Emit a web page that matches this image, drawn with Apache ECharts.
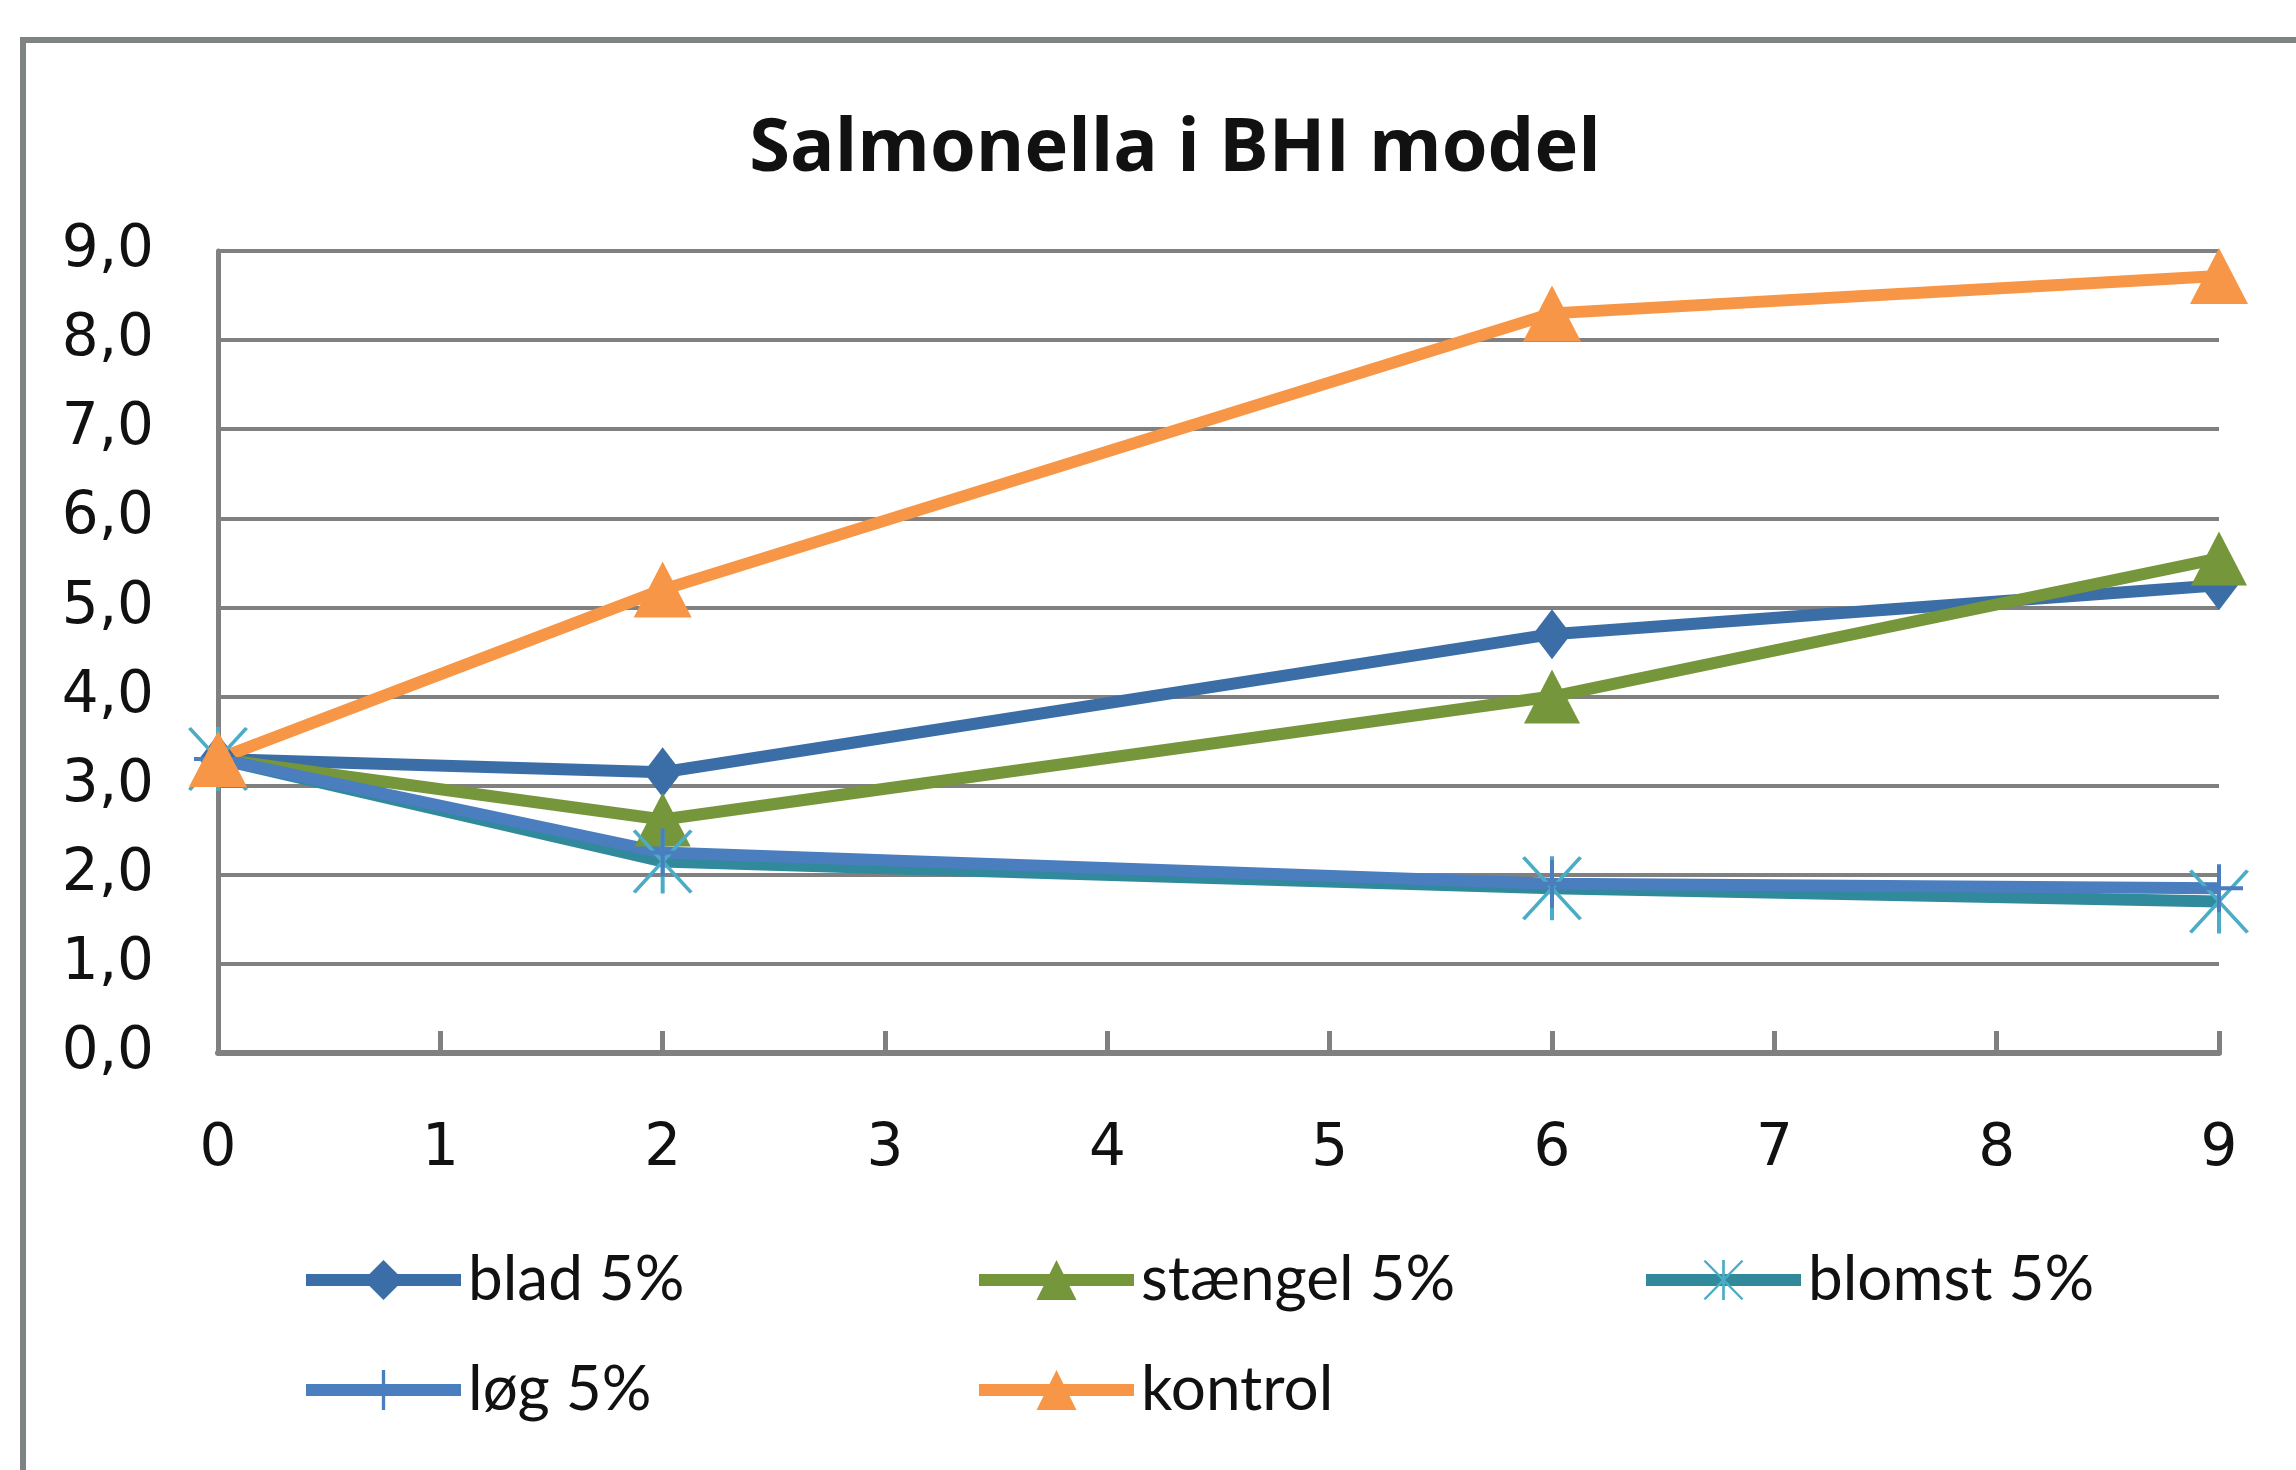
<!DOCTYPE html>
<html>
<head>
<meta charset="utf-8">
<script src="https://cdn.jsdelivr.net/npm/echarts@6/dist/echarts.min.js"></script>
<style>
  html, body { margin: 0; padding: 0; background: #fff; }
  #chart { width: 2296px; height: 1470px; }
</style>
</head>
<body>
<div id="chart"></div>
<script>
// days
const days = [0, 2, 6, 9];
const yTicks = [0, 1, 2, 3, 4, 5, 6, 7, 8, 9];

// log cfu/ml
const blad = [3.3, 3.15, 4.7, 5.25];
const staengel = [3.3, 2.62, 4.0, 5.55];
const blomst = [3.3, 2.15, 1.85, 1.7];
const loeg = [3.3, 2.25, 1.9, 1.85];
const kontrol = [3.3, 5.2, 8.3, 8.72];

const names = ['blad 5%', 'stængel 5%', 'blomst 5%', 'løg 5%', 'kontrol'];

const plusPath = 'path://M22,0h4v48h-4z M0,22h48v4h-48z';
const starPath = 'path://M28,0h4v64h-4z M0,2L3,0L60,62L57,64z M57,0L60,2L3,64L0,62z';

function pairs(arr) {
  return days.map((d, i) => [d, arr[i]]);
}

function lineSeries(name, data, color, symbol, size, markColor) {
  return {
    name: name,
    type: 'line',
    data: pairs(data),
    symbol: symbol,
    symbolSize: size,
    showAllSymbol: true,
    lineStyle: { color: color, width: 12 },
    itemStyle: { color: markColor || color, borderWidth: 0 },
    emphasis: { disabled: true },
    animation: false
  };
}

function legendAt(name, left, top) {
  return {
    data: [name],
    left: left,
    top: top,
    padding: 0,
    itemWidth: 155,
    itemHeight: 50,
    itemGap: 0,
    selectedMode: false,
    lineStyle: { width: 12 },
    textStyle: {
      fontFamily: 'Lato',
      fontSize: 62,
      color: '#111',
      lineHeight: 64,
      padding: [0, 0, 0, 2]
    }
  };
}

const chart = echarts.init(document.getElementById('chart'));

chart.setOption({
  backgroundColor: '#fff',
  animation: false,
  grid: { left: 218, right: 77, top: 251, bottom: 417 },
  xAxis: {
    type: 'value',
    min: 0,
    max: 9,
    interval: 1,
    axisLine: { show: true, lineStyle: { color: '#808080', width: 6 } },
    axisTick: { show: true, inside: true, length: 22, lineStyle: { color: '#808080', width: 5 } },
    splitLine: { show: false },
    axisLabel: {
      fontFamily: 'DejaVu Sans',
      fontSize: 58,
      color: '#111',
      margin: 68
    }
  },
  yAxis: {
    type: 'value',
    min: yTicks[0],
    max: yTicks[yTicks.length - 1],
    interval: 1,
    axisLine: { show: true, lineStyle: { color: '#808080', width: 5 } },
    axisTick: { show: false },
    splitLine: { show: true, lineStyle: { color: '#808080', width: 4 } },
    axisLabel: {
      fontFamily: 'DejaVu Sans',
      fontSize: 58,
      color: '#111',
      margin: 64,
      formatter: v => v.toFixed(1).replace('.', ',')
    }
  },
  legend: [
    legendAt(names[0], 300, 1248),
    legendAt(names[1], 973, 1248),
    legendAt(names[2], 1640, 1248),
    legendAt(names[3], 300, 1358),
    legendAt(names[4], 973, 1358)
  ],
  graphic: [
    {
      type: 'rect',
      shape: { x: 23, y: 40, width: 3000, height: 3000 },
      style: { fill: 'none', stroke: '#7F8383', lineWidth: 6 },
      silent: true
    },
    {
      type: 'text',
      style: {
        x: 1175,
        y: 150,
        text: 'Salmonella i BHI model',
        fontFamily: 'Open Sans',
        fontWeight: 'bold',
        fontSize: 74,
        fill: '#111',
        textAlign: 'center',
        textVerticalAlign: 'middle'
      },
      silent: true
    }
  ],
  series: [
    lineSeries(names[0], blad, '#3B6EA6', 'diamond', [38, 50]),
    lineSeries(names[1], staengel, '#76963C', 'triangle', [56, 54]),
    lineSeries(names[2], blomst, '#31899C', starPath, [60, 64], '#4BACC6'),
    lineSeries(names[3], loeg, '#4A7EBE', plusPath, [48, 48]),
    lineSeries(names[4], kontrol, '#F79646', 'triangle', [58, 56])
  ]
});
</script>
</body>
</html>
